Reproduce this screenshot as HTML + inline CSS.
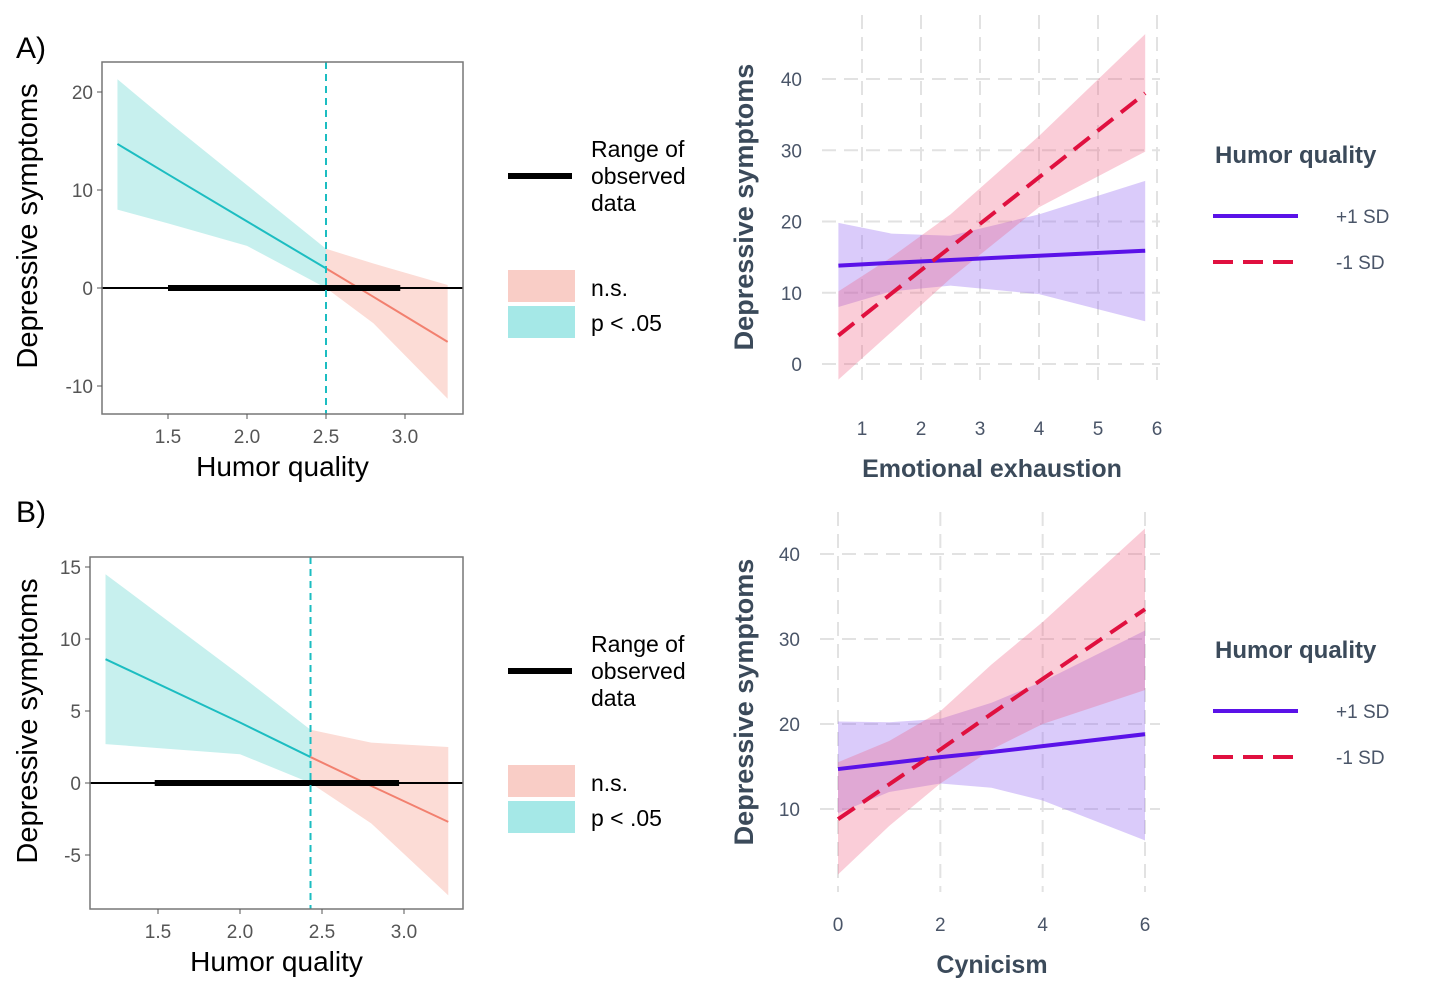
<!DOCTYPE html>
<html><head><meta charset="utf-8"><style>
body{margin:0;background:#fff;}
svg{display:block;font-family:"Liberation Sans",Arial,sans-serif;}
</style></head><body>
<svg id="s" width="1441" height="995" viewBox="0 0 1441 995"></svg>
<script>
// ---- Panel A left (Johnson-Neyman) data ----
const jnAX=[1.18,1.5,2.0,2.5,2.8,3.27];
const jnALine=[14.7,11.6,6.8,2.0,-0.9,-5.5];
const jnAUp=[21.3,17,10.5,4,2.5,0.3];
const jnALo=[8,6.6,4.3,0,-3.6,-11.3];
const jnAXTicks=[1.5,2.0,2.5,3.0];
const jnAYTicks=[20,10,0,-10];
const jnACut=2.5, jnARange=[1.5,2.97];
// ---- Panel B left ----
const jnBX=[1.18,2.0,2.43,2.8,3.27];
const jnBLine=[8.6,4.2,1.8,-0.2,-2.7];
const jnBUp=[14.5,7.5,3.7,2.8,2.5];
const jnBLo=[2.7,2.0,0,-2.8,-7.8];
const jnBXTicks=[1.5,2.0,2.5,3.0];
const jnBYTicks=[15,10,5,0,-5];
const jnBCut=2.43, jnBRange=[1.48,2.97];
// ---- Panel A right (simple slopes) ----
const ssAX=[0.6,1.5,2.5,4,5.8];
const ssAHiLine=[13.8,14.2,14.6,15.2,15.9];
const ssAHiUp=[19.8,18.3,18,21,25.7];
const ssAHiLo=[8,10.2,11,9.8,6];
const ssALoLine=[4,9.9,16.4,26.2,38];
const ssALoUp=[10.2,15,21,32,46.3];
const ssALoLo=[-2.2,4.5,12,22,29.8];
const ssAXTicks=[1,2,3,4,5,6];
const ssAYTicks=[0,10,20,30,40];
// ---- Panel B right ----
const ssBX=[0,1,2,3,4,6];
const ssBHiLine=[14.7,15.4,16.1,16.7,17.4,18.8];
const ssBHiUp=[20.3,20.2,20.6,22.5,25,31];
const ssBHiLo=[9.5,12,13,12.5,11,6.3];
const ssBLoLine=[8.8,12.9,17.0,21.2,25.3,33.5];
const ssBLoUp=[15.5,18,21.5,27,32,43];
const ssBLoLo=[2.3,8,13,17,20,24];
const ssBXTicks=[0,2,4,6];
const ssBYTicks=[10,20,30,40];

const svg=document.getElementById('s');
const NS='http://www.w3.org/2000/svg';
function mk(tag,attrs,parent,text){const e=document.createElementNS(NS,tag);for(const k in attrs)e.setAttribute(k,attrs[k]);if(text!==undefined)e.textContent=text;(parent||svg).appendChild(e);return e;}
function lin(d0,d1,r0,r1){return v=>r0+(v-d0)*(r1-r0)/(d1-d0);}
function poly(xs,ys,sx,sy){return xs.map((x,i)=>sx(x)+','+sy(ys[i])).join(' ');}
function band(xs,up,lo,sx,sy){return xs.map((x,i)=>sx(x)+','+sy(up[i])).concat(xs.slice().reverse().map((x,i)=>sx(x)+','+sy(lo[xs.length-1-i]))).join(' ');}
function interp(xs,ys,x){for(let i=0;i<xs.length-1;i++){if(x>=xs[i]&&x<=xs[i+1]){const t=(x-xs[i])/(xs[i+1]-xs[i]);return ys[i]+t*(ys[i+1]-ys[i]);}}return ys[ys.length-1];}
function split(xs,ys,c){const L={x:[],y:[]},R={x:[c],y:[interp(xs,ys,c)]};xs.forEach((x,i)=>{if(x<c){L.x.push(x);L.y.push(ys[i]);}else if(x>c){R.x.push(x);R.y.push(ys[i]);}});L.x.push(c);L.y.push(interp(xs,ys,c));return [L,R];}

function jnPanel(o){
  const g=mk('g',{});
  
  
  const sx=lin(o.xa[0],o.xa[1],o.xr[0],o.xr[1]), sy=lin(o.ya[0],o.ya[1],o.yr[0],o.yr[1]);
  const [uL,uR]=split(o.X,o.Up,o.cut),[lL,lR]=split(o.X,o.Lo,o.cut),[mL,mR]=split(o.X,o.Line,o.cut);
  let e=mk('polygon',{points:band(uL.x,uL.y,lL.y,sx,sy),fill:'#c7f0ee'},g);
  
  e=mk('polygon',{points:band(uR.x,uR.y,lR.y,sx,sy),fill:'#fcdcd6'},g);
  
  e=mk('polyline',{points:poly(mL.x,mL.y,sx,sy),fill:'none',stroke:'#1cbdc1','stroke-width':2},g);
  
  e=mk('polyline',{points:poly(mR.x,mR.y,sx,sy),fill:'none',stroke:'#f2806f','stroke-width':2},g);
  
  e=mk('line',{x1:o.box[0],x2:o.box[2],y1:sy(0),y2:sy(0),stroke:'#000','stroke-width':2},g);
  
  e=mk('line',{x1:sx(o.range[0]),x2:sx(o.range[1]),y1:sy(0),y2:sy(0),stroke:'#000','stroke-width':6},g);
  
  e=mk('line',{x1:sx(o.cut),x2:sx(o.cut),y1:o.box[1],y2:o.box[3],stroke:'#1cbdc1','stroke-width':2,'stroke-dasharray':'7,5'},g);
  
  e=mk('rect',{x:o.box[0],y:o.box[1],width:o.box[2]-o.box[0],height:o.box[3]-o.box[1],fill:'none',stroke:'#777','stroke-width':1.5},g);
  
  o.xt.forEach(t=>{mk('line',{x1:sx(t),x2:sx(t),y1:o.box[3],y2:o.box[3]+5,stroke:'#555'},g);
    e=mk('text',{x:sx(t),y:o.box[3]+29,'text-anchor':'middle','font-size':19,fill:'#555'},g,t.toFixed(1));
    });
  o.yt.forEach(t=>{mk('line',{x1:o.box[0]-5,x2:o.box[0],y1:sy(t),y2:sy(t),stroke:'#555'},g);
    e=mk('text',{x:o.box[0]-9,y:sy(t)+7,'text-anchor':'end','font-size':19,fill:'#555'},g,String(t));
    });
  e=mk('text',{x:(o.box[0]+o.box[2])/2,y:o.box[3]+62,'text-anchor':'middle','font-size':28,fill:'#000'},g,'Humor quality');
  
  e=mk('text',{transform:`translate(37,${(o.box[1]+o.box[3])/2-12}) rotate(-90)`,'text-anchor':'middle','font-size':29,fill:'#000'},g,'Depressive symptoms');
  
  e=mk('text',{x:16,y:o.labelY,'font-size':30,fill:'#000'},g,o.label);
  
  // legend
  const ly=o.legY;
  e=mk('line',{x1:508,x2:572,y1:ly+27,y2:ly+27,stroke:'#000','stroke-width':6},g);
  
  ['Range of','observed','data'].forEach((t,i)=>{e=mk('text',{x:591,y:ly+8+i*27,'font-size':23,fill:'#000'},g,t);
    });
  e=mk('rect',{x:508,y:ly+121,width:67,height:32,fill:'#f9cdc6'},g);
  
  e=mk('rect',{x:508,y:ly+157,width:67,height:32,fill:'#a5e8e7'},g);
  
  e=mk('text',{x:591,y:ly+147,'font-size':23,fill:'#000'},g,'n.s.');
  
  e=mk('text',{x:591,y:ly+182,'font-size':23,fill:'#000'},g,'p < .05');
  
}

function ssPanel(o){
  const g=mk('g',{});
  
  
  const sx=lin(o.xa[0],o.xa[1],o.xr[0],o.xr[1]), sy=lin(o.ya[0],o.ya[1],o.yr[0],o.yr[1]);
  let e;
  o.xt.forEach(t=>{e=mk('line',{x1:sx(t),x2:sx(t),y1:o.gy[0],y2:o.gy[1],stroke:'#e2e2e2','stroke-width':2,'stroke-dasharray':'14,8'},g);
    
    e=mk('text',{x:sx(t),y:o.tickY,'text-anchor':'middle','font-size':19,fill:'#4a5568'},g,String(t));
    });
  o.yt.forEach(t=>{e=mk('line',{x1:o.gx[0],x2:o.gx[1],y1:sy(t),y2:sy(t),stroke:'#e2e2e2','stroke-width':2,'stroke-dasharray':'14,8'},g);
    
    e=mk('text',{x:o.gx[0]-20,y:sy(t)+7,'text-anchor':'end','font-size':19,fill:'#4a5568'},g,String(t));
    });
  e=mk('polygon',{points:band(o.X,o.HiUp,o.HiLo,sx,sy),fill:'rgba(150,105,240,0.35)'},g);
  
  e=mk('polygon',{points:band(o.X,o.LoUp,o.LoLo,sx,sy),fill:'rgba(238,90,125,0.3)'},g);
  
  e=mk('polyline',{points:poly(o.X,o.HiLine,sx,sy),fill:'none',stroke:'#5a12e8','stroke-width':4},g);
  
  e=mk('polyline',{points:poly(o.X,o.LoLine,sx,sy),fill:'none',stroke:'#e0103f','stroke-width':4,'stroke-dasharray':'20,10'},g);
  
  e=mk('text',{x:992,y:o.tickY+42,'text-anchor':'middle','font-size':25,'font-weight':'bold',fill:'#3b4a5a'},g,o.xtitle);
  
  e=mk('text',{transform:`translate(753,${o.ytc}) rotate(-90)`,'text-anchor':'middle','font-size':27,'font-weight':'bold',fill:'#3b4a5a'},g,'Depressive symptoms');
  
  const ly=o.legY;
  e=mk('text',{x:1215,y:ly,'font-size':24,'font-weight':'bold',fill:'#3b4a5a'},g,'Humor quality');
  
  e=mk('line',{x1:1213,x2:1298,y1:ly+53,y2:ly+53,stroke:'#5a12e8','stroke-width':4},g);
  
  e=mk('line',{x1:1213,x2:1298,y1:ly+99,y2:ly+99,stroke:'#e0103f','stroke-width':4,'stroke-dasharray':'20,10'},g);
  
  e=mk('text',{x:1336,y:ly+60,'font-size':19,fill:'#4a5568'},g,'+1 SD');
  
  e=mk('text',{x:1336,y:ly+106,'font-size':19,fill:'#4a5568'},g,'-1 SD');
  
}

jnPanel({name:'panel-a-johnson-neyman',X:jnAX,Line:jnALine,Up:jnAUp,Lo:jnALo,cut:jnACut,range:jnARange,xt:jnAXTicks,yt:jnAYTicks,
  xa:[1.5,3.0],xr:[168,405],ya:[0,20],yr:[288,92],box:[102,62,463,414],label:'A)',labelY:58,legY:149});
jnPanel({name:'panel-b-johnson-neyman',X:jnBX,Line:jnBLine,Up:jnBUp,Lo:jnBLo,cut:jnBCut,range:jnBRange,xt:jnBXTicks,yt:jnBYTicks,
  xa:[1.5,3.0],xr:[158,404],ya:[0,15],yr:[783,567],box:[90,557,463,909],label:'B)',labelY:522,legY:644});
ssPanel({name:'panel-a-simple-slopes',X:ssAX,HiLine:ssAHiLine,HiUp:ssAHiUp,HiLo:ssAHiLo,LoLine:ssALoLine,LoUp:ssALoUp,LoLo:ssALoLo,
  xt:ssAXTicks,yt:ssAYTicks,xa:[1,6],xr:[862,1157],ya:[0,40],yr:[364,79],gx:[822,1160],gy:[15,380],tickY:435,xtitle:'Emotional exhaustion',ytc:207,legY:163});
ssPanel({name:'panel-b-simple-slopes',X:ssBX,HiLine:ssBHiLine,HiUp:ssBHiUp,HiLo:ssBHiLo,LoLine:ssBLoLine,LoUp:ssBLoUp,LoLo:ssBLoLo,
  xt:ssBXTicks,yt:ssBYTicks,xa:[0,6],xr:[838,1145],ya:[10,40],yr:[809,554],gx:[820,1160],gy:[512,892],tickY:931,xtitle:'Cynicism',ytc:702,legY:658});
</script>
</body></html>
